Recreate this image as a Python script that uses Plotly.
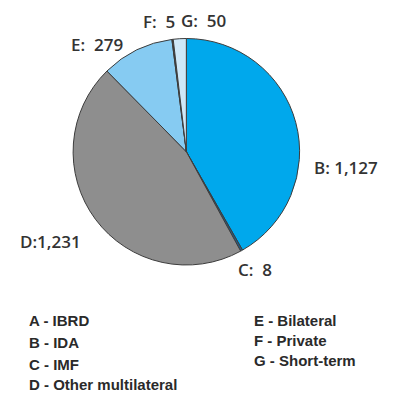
import plotly.graph_objects as go

# Debt composition by creditor (US$ millions)
codes = ["A", "B", "C", "D", "E", "F", "G"]
names = ["IBRD", "IDA", "IMF", "Other multilateral", "Bilateral", "Private", "Short-term"]
values = [0, 1127, 8, 1231, 279, 5, 50]
colors = ["#1b3f73", "#00a8ec", "#1f5e8c", "#8e8e8e", "#86cbf2", "#3a3a3a", "#cfe8f8"]

# Outside label text per slice, with anchor point (px) and horizontal anchor
label_text = {"B": "B: 1,127", "C": "C:  8", "D": "D:1,231", "E": "E:  279", "F": "F:  5", "G": "G:  50"}
label_pos = {"B": (312, 167, "left"), "C": (236, 269, "left"), "D": (18, 241, "left"),
             "E": (69, 44, "left"), "F": (177, 22, "right"), "G": (179, 20, "left")}

W, H = 396, 393
shown = [i for i, v in enumerate(values) if v > 0]

fig = go.Figure(go.Pie(
    labels=[codes[i] for i in shown],
    values=[values[i] for i in shown],
    marker=dict(colors=[colors[i] for i in shown], line=dict(color="#3c3c3c", width=1)),
    sort=False,
    direction="clockwise",
    rotation=0,
    textinfo="none",
    hoverinfo="label+value",
    domain=dict(x=[72.7 / W, 300 / W], y=[1 - 265 / H, 1 - 38.5 / H]),
    showlegend=False,
))

annotations = []
for i in shown:
    c = codes[i]
    px, py, anchor = label_pos[c]
    annotations.append(dict(
        x=px / W, y=1 - py / H, xref="paper", yref="paper", text=label_text[c], showarrow=False,
        xanchor=anchor, yanchor="middle",
        font=dict(family="Open Sans", size=17, color="#333333", weight=600),
    ))

# Two-column key below the pie
key_font = dict(family="Liberation Sans", size=15, color="#2a2a2a", weight="bold")
left_col = [0, 1, 2, 3]
right_col = [4, 5, 6]
left_y = [320, 342, 364, 384]
right_y = [320, 340, 360]
for idx, py in zip(left_col, left_y):
    annotations.append(dict(
        x=27 / W, y=1 - py / H, xref="paper", yref="paper", showarrow=False,
        text=f"{codes[idx]} - {names[idx]}", xanchor="left", yanchor="middle", font=key_font,
    ))
for idx, py in zip(right_col, right_y):
    annotations.append(dict(
        x=252 / W, y=1 - py / H, xref="paper", yref="paper", showarrow=False,
        text=f"{codes[idx]} - {names[idx]}", xanchor="left", yanchor="middle", font=key_font,
    ))

fig.update_layout(
    width=W, height=H,
    margin=dict(l=0, r=0, t=0, b=0),
    paper_bgcolor="white", plot_bgcolor="white",
    annotations=annotations,
)

fig.write_html("out.html")
